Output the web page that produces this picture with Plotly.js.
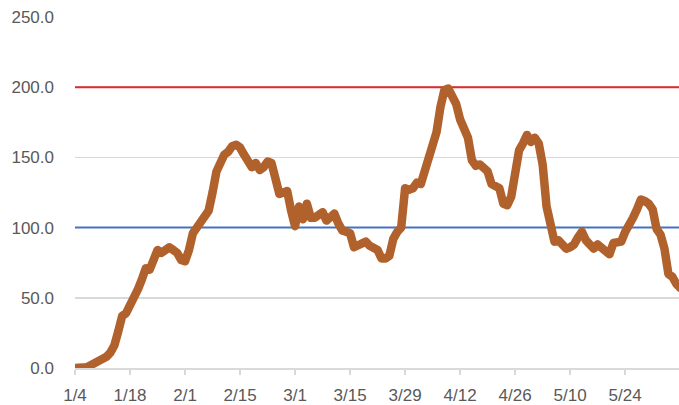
<!DOCTYPE html>
<html>
<head>
<meta charset="utf-8">
<script src="https://cdn.plot.ly/plotly-3.0.1.min.js"></script>
<style>
html,body{margin:0;padding:0;background:#fff;}
#chart{width:679px;height:405px;}
#chart .scatterlayer .trace:last-child path.js-line{stroke-linejoin:round !important;stroke-linecap:round !important;}
</style>
</head>
<body>
<div id="chart"></div>
<script>
// first day of the series; one value per day
const startDate = "2021-01-04";
const values = [
  0, 0, 0, 0.5, 2, 3.5, 5, 6, 8, 11,
  16, 26, 37, 39, 44, 50, 56, 63, 71, 70,
  76, 84, 82, 84, 86, 84, 82, 77, 76, 84,
  96, 100, 104, 108, 112, 125, 140, 146, 152, 154,
  158, 159, 157, 152, 147, 143, 146, 141, 143, 147,
  146, 134, 124, 125, 126, 112, 101, 115, 106, 117,
  107, 107, 110, 111, 105, 108, 110, 103, 98, 97,
  96, 86, 87, 89, 90, 87, 86, 84, 78, 78,
  80, 92, 97, 100, 128, 127, 128, 132, 131, 140,
  145, 154, 168, 186, 198, 199, 194, 188, 177, 170,
  164, 148, 144, 145, 143, 140, 131, 129, 128, 117,
  116, 122, 140, 155, 160, 166, 161, 164, 160, 145,
  115, 100, 90, 91, 88, 85, 86, 88, 93, 97,
  91, 87, 85, 88, 86, 83, 81, 89, 89, 90,
  97, 104, 107, 113, 120, 119, 117, 113, 99, 95,
  85, 67, 65, 60, 57
];
const tickDates = ["2021-01-04","2021-01-18","2021-02-01","2021-02-15","2021-03-01","2021-03-15","2021-03-29","2021-04-12","2021-04-26","2021-05-10","2021-05-24"];
const tickLabels = ["1/4","1/18","2/1","2/15","3/1","3/15","3/29","4/12","4/26","5/10","5/24"];
const yTicks = [0, 50, 100, 150, 200, 250];
const upperLevel = 200;
const lowerLevel = 100;

const DAY = 86400000;
const t0 = Date.parse(startDate + "T00:00:00Z");
function iso(ms){ return new Date(ms).toISOString().slice(0,10); }
const dates = values.map((v,i)=>iso(t0 + i*DAY));
const xEnd = new Date(t0 + 153.7*DAY).toISOString().slice(0,19).replace('T',' ');

const labelFont = {family: "Liberation Sans, Arial, sans-serif", size: 17, color: "#595959"};

const upperTrace = {
  x: [startDate, xEnd], y: [upperLevel, upperLevel], type: "scatter", mode: "lines",
  line: {color: "#E0282E", width: 2}, hoverinfo: "skip"
};
const lowerTrace = {
  x: [startDate, xEnd], y: [lowerLevel, lowerLevel], type: "scatter", mode: "lines",
  line: {color: "#4472C4", width: 2}, hoverinfo: "skip"
};
const trace = {
  x: dates, y: values, type: "scatter", mode: "lines",
  line: {color: "#B1612B", width: 8.5},
  hoverinfo: "skip"
};

const layout = {
  width: 679, height: 405,
  margin: {l: 75, r: 0, t: 17, b: 37, pad: 0},
  paper_bgcolor: "#fff", plot_bgcolor: "#fff",
  showlegend: false,
  xaxis: {
    type: "date", range: [startDate, xEnd],
    tickmode: "array", tickvals: tickDates, ticktext: tickLabels,
    ticks: "outside", ticklen: 5, tickcolor: "#d9d9d9", tickwidth: 1.5,
    showgrid: false, showline: true, linecolor: "#d9d9d9", linewidth: 1.5,
    zeroline: false, tickfont: labelFont, ticklabelstandoff: 6,
    fixedrange: true
  },
  yaxis: {
    range: [0, 250], tickmode: "array", tickvals: yTicks, tickformat: ".1f",
    showgrid: true, gridcolor: "#d9d9d9", gridwidth: 1.5,
    zeroline: false, showline: false, ticks: "",
    tickfont: labelFont, ticklabelstandoff: 20,
    fixedrange: true
  }
};

Plotly.newPlot("chart", [upperTrace, lowerTrace, trace], layout, {staticPlot: true, displayModeBar: false});
</script>
</body>
</html>
